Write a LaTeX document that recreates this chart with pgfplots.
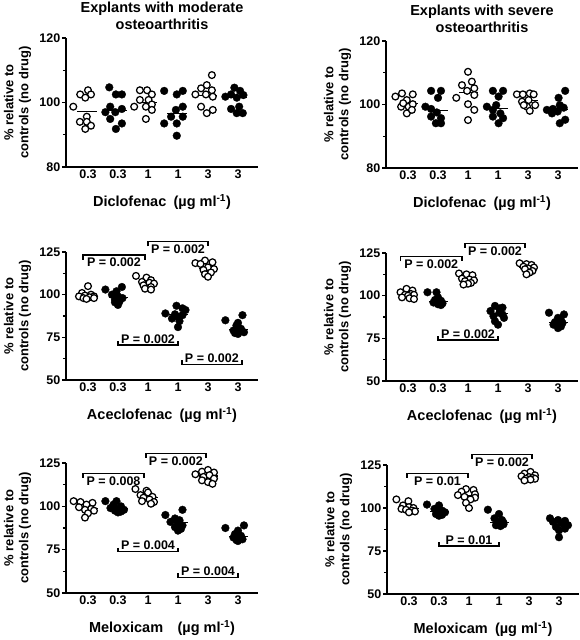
\documentclass[border=0pt]{standalone}
\usepackage{fontspec}
\setmainfont{Liberation Sans}
\usepackage{pgfplots}
\pgfplotsset{compat=1.18}

\newcommand{\tf}{\fontsize{12.5}{12.5}\selectfont\bfseries}
\newcommand{\lf}{\fontsize{13}{15}\selectfont\bfseries}
\newcommand{\xf}{\fontsize{14.5}{16}\selectfont\bfseries}
\newcommand{\ttf}{\fontsize{14.5}{16.5}\selectfont\bfseries}
\newcommand{\unit}{(µg ml\textsuperscript{-1})}

\tikzset{
  ptop/.style={anchor=north, inner sep=2.5pt, font=\tf},
  pbot/.style={anchor=south, inner sep=1pt, font=\tf},
}
\pgfplotsset{
  panel/.style={
    scale only axis, width=192pt,
    axis lines=left,
    axis line style={-, line width=1.3pt},
    xmin=-0.733, xmax=5.667,
    xtick={0,1,2,3,4,5}, xticklabels={0.3,0.3,1,1,3,3},
    x tick style={draw=none},
    y tick style={line width=1.1pt, black},
    tick align=outside, major tick length=4pt, minor tick length=3pt,
    minor y tick num=1,
    ticklabel style={font=\tf},
    yticklabel style={inner sep=1.5pt},
    xticklabel style={yshift=5pt},
    /pgf/number format/assume math mode=true,
    clip=false,
    every axis title/.style={at={(axis description cs:0.5,1)}, anchor=center, yshift=22pt, align=center, font=\ttf},
    every axis x label/.style={at={(axis description cs:0.5,0)}, anchor=center, yshift=-35pt, font=\xf},
    every axis y label/.style={at={(axis description cs:-0.2526,0.5)}, rotate=90, anchor=center, align=center, font=\lf},
    ylabel={\% relative to\\controls (no drug)},
  },
  open/.style={only marks, mark=*, mark size=3.4pt, mark options={fill=white, draw=black, line width=1.25pt}},
  filled/.style={only marks, mark=*, mark size=3.9pt, mark options={fill=black, draw=black, line width=0.3pt}},
  med/.style={black, line width=1.1pt, no marks},
  brk/.style={black, line width=1.3pt, no marks},
}

\begin{document}
\begin{tikzpicture}[x=1pt,y=1pt]
\useasboundingbox (0,0) rectangle (580,640);

% ---------------- Top left
\begin{axis}[panel, at={(66pt,473pt)}, anchor=south west, height=129pt,
  ymin=80, ymax=120, ytick={80,100,120},
  title={Explants with moderate\\osteoarthritis},
  xlabel={Diclofenac\enspace\unit}]
\addplot[open] coordinates {(-0.49,98.7) (-0.26,102.5) (0.0,103.8) (0.1,102.5) (-0.09,101.5) (-0.04,95.6) (-0.27,94.0) (-0.04,94.0) (0.1,92.8) (-0.09,91.8)};
\addplot[filled] coordinates {(0.71,104.7) (0.93,102.5) (1.13,102.5) (0.74,98.7) (0.58,97.0) (0.91,97.0) (1.13,98.0) (0.74,94.9) (1.13,93.5) (0.93,91.8)};
\addplot[open] coordinates {(1.54,98.7) (1.73,103.8) (1.97,103.8) (2.13,102.5) (1.73,100.8) (2.02,100.8) (1.93,98.7) (2.13,99.4) (2.13,97.7) (1.93,94.9)};
\addplot[filled] coordinates {(2.54,103.6) (2.96,102.5) (3.16,103.6) (3.16,98.7) (2.93,97.7) (2.77,95.6) (3.16,95.6) (2.54,93.5) (2.96,93.5) (2.96,89.7)};
\addplot[open] coordinates {(4.13,108.5) (3.58,102.5) (3.77,104.4) (3.96,105.4) (4.13,103.8) (3.93,102.5) (4.16,101.8) (3.77,98.7) (4.16,97.7) (3.96,96.7)};
\addplot[filled] coordinates {(4.58,101.8) (4.88,104.6) (5.07,103.6) (5.18,102.3) (4.77,102.5) (4.96,101.5) (4.77,98.0) (5.04,98.7) (4.96,96.7) (5.16,96.7)};
\addplot[med] coordinates {(-0.35,97.2) (0.3,97.2)};
\addplot[med] coordinates {(0.65,97.5) (1.3,97.5)};
\addplot[med] coordinates {(1.65,100.1) (2.3,100.1)};
\addplot[med] coordinates {(2.65,96.6) (3.3,96.6)};
\addplot[med] coordinates {(3.65,102.2) (4.3,102.2)};
\addplot[med] coordinates {(4.65,101.6) (5.3,101.6)};
\end{axis}

% ---------------- Top right
\begin{axis}[panel, at={(386pt,472pt)}, anchor=south west, height=127pt,
  ymin=80, ymax=120, ytick={80,100,120},
  title={Explants with severe\\osteoarthritis},
  xlabel={Diclofenac\enspace\unit}]
\addplot[open] coordinates {(-0.42,102.5) (-0.2,103.5) (0.16,103.2) (-0.04,101.4) (-0.23,99.3) (0.02,99.3) (0.16,100.1) (-0.04,97.2) (0.13,98.3) (-0.16,100.4)};
\addplot[filled] coordinates {(0.77,104.3) (1.1,104.3) (1.0,102.1) (0.58,99.3) (0.77,98.6) (0.96,97.5) (1.1,95.7) (0.77,96.2) (0.93,94.1) (1.1,94.1)};
\addplot[open] coordinates {(2.0,110.3) (2.13,107.2) (1.8,106.1) (2.21,105.1) (1.97,104.3) (1.61,102.1) (2.21,103) (2.0,100.1) (2.21,98.3) (2.0,95.1)};
\addplot[filled] coordinates {(2.83,104.3) (3.17,104.3) (3.02,102.5) (2.63,99.3) (2.83,98.3) (3.08,97.2) (2.83,96.2) (3.17,95.7) (3.02,94.1) (2.94,99.8)};
\addplot[open] coordinates {(3.63,103.2) (3.83,103.2) (4.06,103.5) (4.19,103.2) (3.8,100.9) (4.02,101.4) (4.24,99.8) (3.97,99.3) (3.86,99.8) (4.06,98.0)};
\addplot[filled] coordinates {(5.24,104.3) (5.02,102.1) (4.63,98.3) (4.83,98.6) (5.06,99.8) (5.19,99) (4.8,97.2) (4.99,97.8) (5.06,94.1) (5.24,95.2)};
\addplot[med] coordinates {(-0.3,100.3) (0.35,100.3)};
\addplot[med] coordinates {(0.7,98.1) (1.35,98.1)};
\addplot[med] coordinates {(1.7,103.7) (2.35,103.7)};
\addplot[med] coordinates {(2.7,98.8) (3.35,98.8)};
\addplot[med] coordinates {(3.7,101.2) (4.35,101.2)};
\addplot[med] coordinates {(4.7,98.5) (5.35,98.5)};
\end{axis}

% ---------------- Middle left
\begin{axis}[panel, at={(66pt,260pt)}, anchor=south west, height=128pt,
  ymin=50, ymax=125, ytick={50,75,100,125},
  xlabel={Aceclofenac\enspace\unit}]
\addplot[open] coordinates {(0,105) (-0.2,101) (0.1,100) (-0.1,99.5) (0.2,99) (-0.3,99) (0.05,98.5) (-0.15,98) (0.2,98) (-0.05,97.5)};
\addplot[filled] coordinates {(0.58,103) (1.13,104.5) (0.95,102) (0.8,100) (1.0,99) (1.15,98) (0.9,97) (1.05,96) (0.9,95.5) (1.0,94)};
\addplot[open] coordinates {(1.6,111) (1.95,110) (2.1,108.5) (1.8,107.5) (2.05,107) (2.2,106.5) (1.85,105.5) (2.1,104.5) (1.9,103.5) (2.1,103)};
\addplot[filled] coordinates {(2.95,93.5) (3.15,92) (3.25,91) (2.58,89) (2.9,88.5) (3.15,88) (3.0,87) (2.8,86) (3.05,84.5) (3.0,81)};
\addplot[open] coordinates {(3.9,120) (3.58,118.5) (4.15,119) (3.75,118) (4.0,116) (4.2,115) (3.85,114.5) (4.1,113) (3.9,112) (4.0,110.5)};
\addplot[filled] coordinates {(5.15,88) (4.58,85) (5.0,83.5) (4.95,82) (5.1,80) (4.85,79) (5.05,78.5) (5.2,78) (4.9,77.5) (5.0,77)};
\addplot[med] coordinates {(-0.3,99) (0.35,99)};
\addplot[med] coordinates {(0.7,98.5) (1.35,98.5)};
\addplot[med] coordinates {(1.7,106.8) (2.35,106.8)};
\addplot[med] coordinates {(2.7,88.3) (3.35,88.3)};
\addplot[med] coordinates {(3.7,115.5) (4.35,115.5)};
\addplot[med] coordinates {(4.7,79.5) (5.35,79.5)};
\addplot[brk] coordinates {(-0.17,120.5) (-0.17,123.2) (1.9,123.2) (1.9,120.5)} node[pos=0.5, ptop] {P = 0.002};
\addplot[brk] coordinates {(2.0,128.3) (2.0,131) (4.0,131) (4.0,128.3)} node[pos=0.5, ptop] {P = 0.002};
\addplot[brk] coordinates {(1.0,72.8) (1.0,70.5) (3.0,70.5) (3.0,72.8)} node[pos=0.5, pbot] {P = 0.002};
\addplot[brk] coordinates {(3.13,61.5) (3.13,59.2) (5.13,59.2) (5.13,61.5)} node[pos=0.5, pbot] {P = 0.002};
\end{axis}

% ---------------- Middle right
\begin{axis}[panel, at={(386pt,259pt)}, anchor=south west, height=128pt,
  ymin=50, ymax=125, ytick={50,75,100,125},
  xlabel={Aceclofenac\enspace\unit}]
\addplot[open] coordinates {(-0.05,104) (0.15,103) (-0.25,102) (0.1,101) (-0.1,100.5) (0.2,100.5) (0,100) (-0.2,99) (0.05,98.5) (0.2,98)};
\addplot[filled] coordinates {(0.65,102) (0.95,102) (1.0,99) (0.9,97.5) (1.1,97) (1.05,96.5) (0.85,96) (1.15,95.5) (1.0,95) (1.1,94.5)};
\addplot[open] coordinates {(1.7,113) (1.95,112.5) (2.15,112) (1.8,110) (2.05,109.5) (2.2,109) (1.9,108.5) (2.1,107.5) (2.0,107) (1.85,106.5)};
\addplot[filled] coordinates {(2.9,94) (3.15,93) (3.05,92.5) (2.75,91) (3.05,90) (3.15,89) (2.85,88) (3.2,87) (2.9,85) (3.0,83)};
\addplot[open] coordinates {(3.72,119) (3.95,118.5) (4.12,118) (3.85,117) (4.2,116.5) (4.0,116) (3.9,115.5) (4.15,114.5) (4.05,113.5) (3.95,112.5)};
\addplot[filled] coordinates {(4.7,90) (5.2,89) (5.0,87) (5.1,85.5) (4.9,84.5) (5.15,84) (5.05,83.5) (4.85,83) (5.1,82) (5.0,81)};
\addplot[med] coordinates {(-0.3,100.5) (0.35,100.5)};
\addplot[med] coordinates {(0.7,96.8) (1.35,96.8)};
\addplot[med] coordinates {(1.7,109.3) (2.35,109.3)};
\addplot[med] coordinates {(2.7,89.5) (3.35,89.5)};
\addplot[med] coordinates {(3.7,116.3) (4.35,116.3)};
\addplot[med] coordinates {(4.7,84.3) (5.35,84.3)};
\addplot[brk] coordinates {(-0.25,120.1) (-0.25,122.8) (1.8,122.8) (1.8,120.1)} node[pos=0.5, ptop] {P = 0.002};
\addplot[brk] coordinates {(1.9,128) (1.9,130.7) (3.9,130.7) (3.9,128)} node[pos=0.5, ptop] {P = 0.002};
\addplot[brk] coordinates {(1.0,76.3) (1.0,74) (3.0,74) (3.0,76.3)} node[pos=0.5, pbot] {P = 0.002};
\end{axis}

% ---------------- Bottom left
\begin{axis}[panel, at={(66pt,47pt)}, anchor=south west, height=130pt,
  ymin=50, ymax=125, ytick={50,75,100,125},
  xlabel={Meloxicam\quad\unit}]
\addplot[open] coordinates {(-0.48,103) (-0.25,102.5) (0.15,102) (-0.05,101) (-0.3,99.5) (0.1,98.5) (-0.1,98) (0.2,97.5) (0.0,96) (-0.1,93.5)};
\addplot[filled] coordinates {(0.58,103) (0.95,103) (0.85,101) (1.1,100) (0.75,99) (1.0,98.5) (1.2,98) (0.9,97.5) (1.1,97) (1.0,96.5)};
\addplot[open] coordinates {(1.58,110) (1.95,109) (2.0,108) (1.75,106.5) (2.15,105.5) (1.85,105) (2.05,104) (1.8,103) (2.2,102.5) (2.1,101.5)};
\addplot[filled] coordinates {(3.15,98) (2.58,95) (2.9,93) (3.05,92) (2.75,91) (3.0,90) (3.15,89) (2.9,88) (3.1,87) (3.0,86)};
\addplot[open] coordinates {(3.58,118.5) (3.8,120) (4.0,121) (4.2,119.5) (3.85,117) (4.05,118) (4.2,116) (3.8,115) (4.0,114) (4.15,113)};
\addplot[filled] coordinates {(5.2,89) (4.58,87.5) (5.0,86) (4.9,84) (5.1,83) (4.85,82) (5.05,81.5) (5.15,81) (4.95,80.5) (5.0,80)};
\addplot[med] coordinates {(-0.3,99) (0.35,99)};
\addplot[med] coordinates {(0.7,98.8) (1.35,98.8)};
\addplot[med] coordinates {(1.7,105.3) (2.35,105.3)};
\addplot[med] coordinates {(2.7,90.5) (3.35,90.5)};
\addplot[med] coordinates {(3.7,117.5) (4.35,117.5)};
\addplot[med] coordinates {(4.7,82.5) (5.35,82.5)};
\addplot[brk] coordinates {(-0.17,116.4) (-0.17,119) (1.87,119) (1.87,116.4)} node[pos=0.5, ptop] {P = 0.008};
\addplot[brk] coordinates {(1.93,128) (1.93,130.6) (3.93,130.6) (3.93,128)} node[pos=0.5, ptop] {P = 0.002};
\addplot[brk] coordinates {(1.0,76.1) (1.0,73.8) (3.0,73.8) (3.0,76.1)} node[pos=0.5, pbot] {P = 0.004};
\addplot[brk] coordinates {(3.0,61.3) (3.0,59) (5.0,59) (5.0,61.3)} node[pos=0.5, pbot] {P = 0.004};
\end{axis}

% ---------------- Bottom right
\begin{axis}[panel, at={(387pt,46pt)}, anchor=south west, height=129pt,
  ymin=50, ymax=125, ytick={50,75,100,125},
  xlabel={Meloxicam\enspace\unit}]
\addplot[open] coordinates {(-0.42,105) (-0.02,104) (-0.2,101.5) (0.0,100.5) (0.15,100) (-0.25,99.5) (-0.1,99) (0.1,98.5) (0.2,98) (0.0,97.5)};
\addplot[filled] coordinates {(0.6,102) (1.0,101.5) (0.85,99.5) (1.1,98.5) (0.95,98) (1.2,97.5) (1.05,97) (0.9,96.5) (1.1,96) (1.0,95.5)};
\addplot[open] coordinates {(1.9,111) (2.15,110.5) (1.75,109.5) (2.2,108) (1.63,107.5) (1.85,106.5) (2.2,106) (2.05,105) (1.9,103) (2.0,100)};
\addplot[filled] coordinates {(2.63,99) (3.0,96.5) (2.85,94) (3.1,93) (2.95,92) (3.15,91.5) (3.0,91) (3.15,90.5) (2.9,90) (3.05,89.5)};
\addplot[open] coordinates {(4.05,121) (3.85,120) (4.2,119) (3.75,118.5) (4.0,118) (4.12,117.5) (3.9,117) (4.2,117) (4.05,116.5) (3.85,116)};
\addplot[filled] coordinates {(4.7,94) (4.97,93) (5.2,92.5) (4.8,92) (5.1,91) (5.3,90) (4.9,89) (5.2,88) (5.0,87) (5.0,83)};
\addplot[med] coordinates {(-0.3,99.8) (0.35,99.8)};
\addplot[med] coordinates {(0.7,97.8) (1.35,97.8)};
\addplot[med] coordinates {(1.7,107) (2.35,107)};
\addplot[med] coordinates {(2.7,91.8) (3.35,91.8)};
\addplot[med] coordinates {(3.7,117.8) (4.35,117.8)};
\addplot[med] coordinates {(4.7,90.5) (5.35,90.5)};
\addplot[brk] coordinates {(-0.07,117.6) (-0.07,120.2) (1.97,120.2) (1.97,117.6)} node[pos=0.5, ptop] {P = 0.01};
\addplot[brk] coordinates {(2.1,128.6) (2.1,131.2) (4.1,131.2) (4.1,128.6)} node[pos=0.5, ptop] {P = 0.002};
\addplot[brk] coordinates {(1.0,80.2) (1.0,77.9) (3.0,77.9) (3.0,80.2)} node[pos=0.5, pbot] {P = 0.01};
\end{axis}
\end{tikzpicture}
\end{document}
